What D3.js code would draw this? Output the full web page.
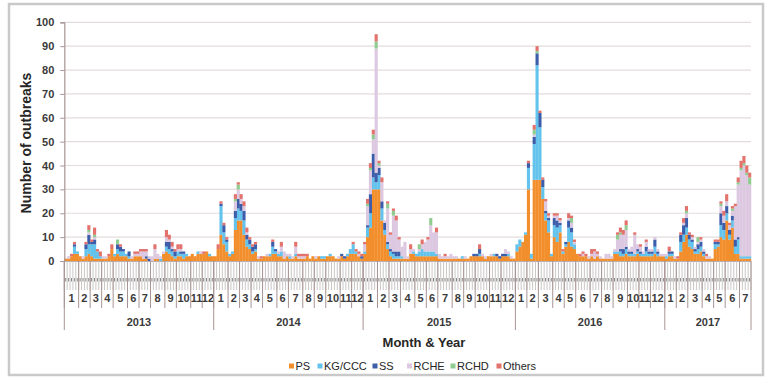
<!DOCTYPE html>
<html><head><meta charset="utf-8">
<script src="https://cdn.jsdelivr.net/npm/d3@7"></script>
<style>
body{margin:0;background:#fff}
svg{display:block}
text{font-family:"Liberation Sans",Arial,sans-serif}
</style>
</head><body>
<svg id="c" width="769" height="378"></svg>
<script>
// ---------- DATA ----------
const years = ["2013","2014","2015","2016","2017"];
// number of (ISO) weeks falling in each month, per year
const weeksPerMonth = [
  [5,4,4,4,5,4,4,5,4,5,4,4],
  [5,4,4,4,5,4,5,4,4,5,4,4],
  [5,4,4,5,4,4,5,4,4,5,4,5],
  [4,4,5,4,4,5,4,4,5,4,4,5],
  [4,4,5,4,4,5,4]
];
const seriesNames = ["PS","KG/CCC","SS","RCHE","RCHD","Others"];
const yTicks = [0,10,20,30,40,50,60,70,80,90,100];

const PS = [
  1,1,2,3,3,2,1,2,3,2, 1,1,1,1,1,2,5,2,3,2, 2,2,1,1,2,2,2,1,1,0, 0,1,1,0,3,4,3,2,1,2, 2,1,2,2,3,2,3,3,3,4,2,2,
  2,5,11,7,4,2,3,13,17,17, 11,6,5,3,4,1,1,2,2,2, 3,3,2,2,1,2,1,1,2,1, 1,1,2,1,2,1,2,1,1,2, 2,2,1,1,2,1,2,3,3,3,2,1,
  3,10,14,30,30,30,17,11,5,2, 1,1,1,1,1,1,3,3,2,2, 2,2,2,2,2,2,1,1,1,1, 1,1,1,1,1,1,1,2,2,2, 2,2,1,2,2,2,2,1,2,2,2,1,1,
  4,6,8,11,30,1,34,34,34,26, 17,12,2,10,8,12,3,6,8,6, 5,3,2,2,2,1,2,1,2,1, 1,1,1,1,3,3,2,2,3,2, 2,2,3,2,2,2,2,2,3,2,2,2,
  1,2,2,1,1,4,8,11,6,5, 3,3,4,2,1,1,1,5,6,10, 9,17,9,14,3,3,1,1,1,1
];
const KG = [
  0,0,0,3,1,0,0,3,4,5, 6,3,1,0,0,0,0,1,2,2, 2,1,1,0,0,0,0,0,0,0, 0,0,0,1,0,2,2,2,1,2, 1,2,1,0,0,0,1,0,0,0,1,0,
  0,0,12,5,4,1,1,5,5,4, 6,3,2,1,1,0,0,0,0,1, 3,1,1,2,0,0,1,0,1,0, 0,0,0,0,0,0,0,1,1,0, 1,0,0,0,0,0,1,2,4,1,0,0,
  1,4,6,5,3,6,5,2,2,2, 2,1,1,1,0,0,0,1,1,2, 3,2,2,2,2,1,0,0,0,0, 0,0,0,0,1,0,0,0,0,0, 1,0,0,0,0,1,0,0,0,0,1,0,0,
  3,3,0,1,9,2,15,48,22,5, 3,5,1,5,6,3,1,1,6,6, 2,0,0,0,0,0,0,0,0,0, 0,0,0,0,1,1,2,1,2,1, 1,1,1,1,1,2,1,1,3,1,0,0,
  1,1,1,0,0,4,3,3,3,3, 1,2,2,1,0,0,0,2,1,5, 4,3,2,3,3,6,1,1,1,1
];
const SS = [
  0,0,0,1,0,0,0,2,4,1, 2,0,0,0,0,0,0,0,2,2, 1,0,2,0,0,0,0,0,1,1, 0,0,0,0,0,2,3,1,2,0, 1,1,0,0,0,0,0,0,0,0,0,0,
  0,0,1,3,1,0,0,3,4,3, 4,2,2,2,2,0,0,0,0,0, 2,1,0,0,0,0,0,0,0,0, 0,0,0,0,0,0,0,0,0,0, 0,0,0,0,1,1,0,0,0,0,0,1,
  0,1,8,10,4,3,3,3,1,1, 1,2,2,0,0,0,0,0,0,0, 0,0,0,0,0,0,0,0,0,0, 0,0,0,0,0,0,0,0,1,1, 2,0,0,0,0,0,1,1,1,1,0,0,0,
  0,0,0,0,2,0,3,5,6,3, 1,1,0,3,3,1,0,1,3,2, 0,0,0,0,0,0,0,0,0,0, 0,0,0,0,0,0,1,2,1,1, 1,0,1,1,0,2,1,1,3,1,0,0,
  0,1,1,0,0,3,4,4,2,1, 1,2,2,1,0,0,0,1,1,5, 3,3,2,2,3,1,0,0,0,0
];
const RCHE = [
  0,1,0,0,0,0,1,0,1,0, 1,0,0,1,1,0,0,0,0,0, 0,0,0,1,1,1,2,3,2,1, 2,4,2,1,1,2,1,1,0,1, 1,0,0,0,0,0,0,1,0,0,0,0,
  0,0,0,0,0,0,0,4,4,2, 2,1,0,0,0,1,0,0,1,0, 0,0,1,2,3,1,1,1,3,1, 1,1,0,0,0,1,0,0,0,0, 0,0,0,1,0,0,0,0,0,0,1,0,
  3,8,10,6,52,1,8,1,14,6, 15,13,5,4,7,1,2,1,0,1, 2,4,5,11,8,9,2,1,1,1, 2,1,1,0,0,1,0,0,0,0, 0,1,1,0,1,0,0,0,0,2,1,1,0,
  0,0,0,0,0,0,1,0,0,0, 4,1,0,1,2,1,0,0,1,2, 1,0,0,1,0,1,1,3,1,1, 0,2,2,1,1,5,6,6,7,1, 2,8,2,2,1,2,1,1,1,1,1,1,
  1,0,0,1,0,0,1,2,0,1, 1,1,1,1,1,1,0,0,0,3, 3,2,2,2,14,22,36,38,34,30
];
const RCHD = [
  0,0,0,0,0,0,0,0,1,0, 1,0,0,0,0,0,0,0,2,0, 0,0,0,0,0,0,0,0,0,0, 0,0,0,0,0,0,0,0,0,0, 0,0,0,0,0,0,0,0,0,0,0,0,
  0,0,0,0,0,0,0,1,2,0, 0,0,0,0,0,0,0,0,0,0, 0,0,0,0,0,0,0,0,0,0, 0,0,0,0,0,0,0,0,0,0, 0,0,0,0,0,0,0,0,0,0,0,0,
  0,1,1,2,3,1,0,0,2,0, 2,0,0,0,0,0,0,0,0,2, 0,0,0,3,0,0,0,0,0,0, 0,0,0,0,0,0,0,0,0,0, 0,0,0,0,0,0,0,0,0,0,0,0,0,
  0,0,0,0,0,0,2,1,0,0, 0,0,0,0,0,0,0,0,0,2, 0,0,0,0,0,0,0,0,0,0, 0,0,0,0,0,2,1,0,2,0, 0,0,0,0,0,0,0,0,0,0,0,0,
  0,0,0,0,0,0,0,1,0,0, 0,2,0,0,0,0,0,0,0,1, 0,0,0,1,0,1,1,1,1,3
];
const Others = [
  0,0,1,1,0,0,0,1,2,1, 3,1,2,0,0,1,2,0,0,1, 0,0,0,0,1,1,1,1,1,0, 0,2,0,0,0,3,2,2,1,2, 2,0,0,0,0,0,0,0,1,0,0,0,
  0,2,1,1,1,0,0,2,1,2, 2,2,1,1,1,0,1,0,0,0, 1,0,0,2,0,0,0,0,2,1, 1,1,1,0,0,0,0,0,0,0, 0,0,0,0,0,0,0,0,1,1,1,1,
  1,2,2,2,3,1,2,0,1,1, 1,2,1,0,0,0,2,0,0,0, 2,0,1,0,0,2,0,0,1,0, 0,0,0,0,0,0,0,0,0,0, 2,0,0,0,0,0,0,0,0,0,0,0,0,
  0,0,0,0,1,0,2,2,1,1, 1,1,0,1,1,1,1,0,2,1, 1,0,1,1,1,0,2,1,1,0, 0,0,0,0,0,1,2,2,2,0, 0,1,0,1,0,1,0,0,0,0,0,0,
  0,2,0,0,1,1,2,2,1,1, 0,0,1,0,1,0,0,1,1,1, 2,3,1,1,1,2,3,3,3,2
];
const colors = ["#F28E2B","#63C3EC","#3C5DAA","#DCC8E0","#8FCC8F","#E2726B"];

// ---------- BUILD ----------
const seriesData = [PS, KG, SS, RCHE, RCHD, Others];
const nWeeks = PS.length;
const rows = d3.range(nWeeks).map(i => {
  const r = {i};
  seriesNames.forEach((s, k) => r[s] = seriesData[k][i]);
  return r;
});

const svg = d3.select("#c");
const pLeft = 64.3, pRight = 751, pTop = 22.3, pBottom = 261;

// outer frame
svg.append("rect").attr("x", 9).attr("y", 4).attr("width", 754).attr("height", 371)
  .attr("fill", "#fff").attr("stroke", "#c9c9c9").attr("stroke-width", 2.5);

const x = d3.scaleBand().domain(d3.range(nWeeks)).range([pLeft, pRight]).paddingInner(0).paddingOuter(0);
const y = d3.scaleLinear().domain([0, 100]).range([pBottom, pTop]);

// gridlines
svg.append("g").selectAll("line").data(yTicks.slice(1)).join("line")
  .attr("x1", pLeft).attr("x2", pRight)
  .attr("y1", d => y(d)).attr("y2", d => y(d))
  .attr("stroke", "#e4dcdc").attr("stroke-width", 1.2);

// stacked bars
const stack = d3.stack().keys(seriesNames);
const layers = stack(rows);
const bw = x.bandwidth();
svg.append("g").selectAll("g").data(layers).join("g")
  .attr("fill", (d, k) => colors[k])
  .selectAll("rect").data(d => d.filter(s => s[1] > s[0])).join("rect")
  .attr("x", d => x(d.data.i))
  .attr("width", bw + 0.25)
  .attr("y", d => y(d[1]))
  .attr("height", d => y(d[0]) - y(d[1]));

// y axis
const yAxis = svg.append("g").attr("transform", `translate(${pLeft},0)`)
  .call(d3.axisLeft(y).tickValues(yTicks).tickSize(4).tickPadding(6));
yAxis.select(".domain").attr("stroke", "#a89494").attr("stroke-width", 1.2);
yAxis.selectAll(".tick line").attr("stroke", "#a89494");
yAxis.selectAll(".tick text").attr("fill", "#3a3a3a").attr("font-size", 11).attr("font-weight", "bold")
  .attr("font-family", "Liberation Sans, Arial, sans-serif");

// y title
svg.append("text")
  .attr("transform", `translate(31,143) rotate(-90)`)
  .attr("text-anchor", "middle").attr("font-size", 14).attr("font-weight", "bold").attr("fill", "#262626")
  .text("Number of outbreaks");

// x axis: week level
const gx = svg.append("g");
gx.append("line").attr("x1", pLeft).attr("x2", pRight).attr("y1", pBottom + 0.5).attr("y2", pBottom + 0.5)
  .attr("stroke", "#b8aaaa").attr("stroke-width", 1);
const weekEdges = d3.range(nWeeks + 1).map(i => i < nWeeks ? x(i) : pRight);
gx.selectAll("line.wk").data(weekEdges).join("line").attr("class", "wk")
  .attr("x1", d => d).attr("x2", d => d).attr("y1", pBottom).attr("y2", 290)
  .attr("stroke", "#c4c0c0").attr("stroke-width", 0.9);
gx.selectAll("line.wl").data(d3.range(nWeeks)).join("line").attr("class", "wl")
  .attr("x1", i => x(i) + bw / 2).attr("x2", i => x(i) + bw / 2).attr("y1", 278).attr("y2", 281.5)
  .attr("stroke", "#777").attr("stroke-width", 0.9);

// month & year levels
let idx = 0;
const monthCells = [], yearCells = [];
weeksPerMonth.forEach((ms, yi) => {
  const ys = idx;
  ms.forEach((n, mi) => { monthCells.push({m: mi + 1, s: idx, e: idx + n}); idx += n; });
  yearCells.push({label: years[yi], s: ys, e: idx});
});
const edge = i => i < nWeeks ? x(i) : pRight;

gx.selectAll("line.mo").data(monthCells).join("line").attr("class", "mo")
  .attr("x1", d => edge(d.s)).attr("x2", d => edge(d.s)).attr("y1", pBottom).attr("y2", 308)
  .attr("stroke", "#a89494").attr("stroke-width", 1);
gx.append("line").attr("x1", pRight).attr("x2", pRight).attr("y1", pBottom).attr("y2", 330)
  .attr("stroke", "#a89494").attr("stroke-width", 1);
gx.selectAll("text.mo").data(monthCells).join("text").attr("class", "mo")
  .attr("x", d => (edge(d.s) + edge(d.e)) / 2).attr("y", 302)
  .attr("text-anchor", "middle").attr("font-size", 11).attr("font-weight", "bold").attr("fill", "#3a3a3a")
  .text(d => d.m);

gx.selectAll("line.yr").data(yearCells).join("line").attr("class", "yr")
  .attr("x1", d => edge(d.s)).attr("x2", d => edge(d.s)).attr("y1", pBottom).attr("y2", 330)
  .attr("stroke", "#a89494").attr("stroke-width", 1);
gx.selectAll("text.yr").data(yearCells).join("text").attr("class", "yr")
  .attr("x", d => (edge(d.s) + edge(d.e)) / 2).attr("y", 326)
  .attr("text-anchor", "middle").attr("font-size", 11).attr("font-weight", "bold").attr("fill", "#3a3a3a")
  .text(d => d.label);

// x title
svg.append("text").attr("x", 424).attr("y", 347).attr("text-anchor", "middle")
  .attr("font-size", 13).attr("font-weight", "bold").attr("fill", "#262626").text("Month & Year");

// legend
const legX = [291.5, 320, 375, 409.5, 453, 499];
const leg = svg.append("g").selectAll("g").data(seriesNames).join("g")
  .attr("transform", (d, k) => `translate(${legX[k]},366)`);
leg.append("rect").attr("x", -2.5).attr("y", -2.5).attr("width", 5).attr("height", 5)
  .attr("fill", (d, k) => colors[k]);
leg.append("text").attr("x", 4).attr("y", 4).attr("font-size", 11).attr("fill", "#262626").text(d => d);
</script>
</body></html>
